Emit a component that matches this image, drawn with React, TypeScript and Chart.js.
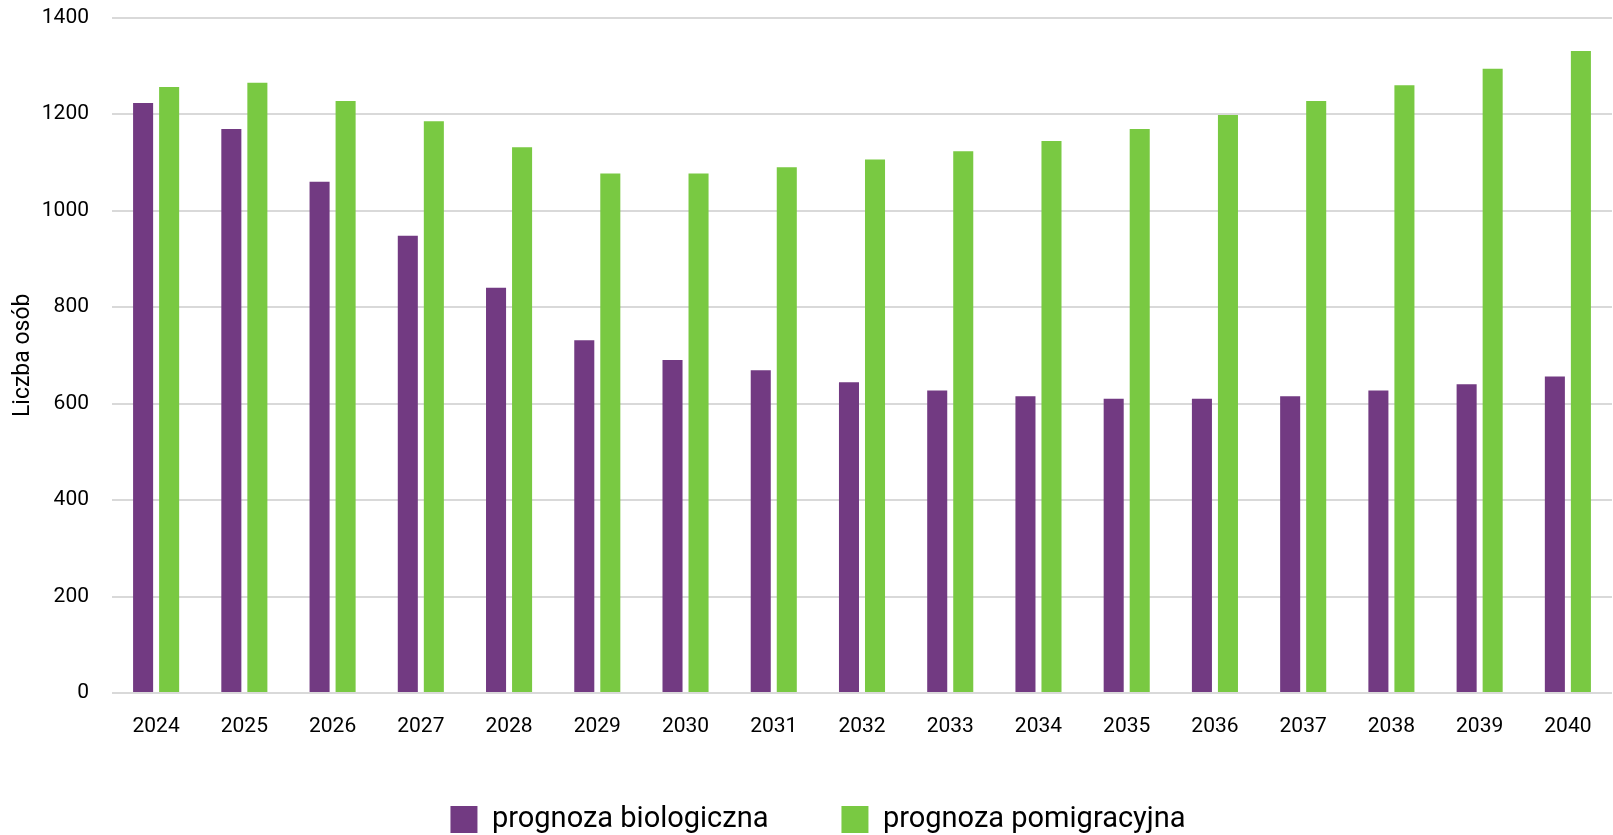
import React, { useEffect, useRef } from "react";
import { Chart, registerables } from "chart.js";

Chart.register(...registerables);

const years = ["2024", "2025", "2026", "2027", "2028", "2029", "2030", "2031", "2032", "2033", "2034", "2035", "2036", "2037", "2038", "2039", "2040"];
const prognozaBiologiczna = [1223, 1169, 1060, 948, 840, 731, 690, 669, 644, 627, 615, 610, 610, 615, 627, 640, 656];
const prognozaPomigracyjna = [1256, 1265, 1227, 1185, 1131, 1077, 1077, 1090, 1106, 1123, 1144, 1169, 1198, 1227, 1260, 1294, 1331];
const seriesNames = ["prognoza biologiczna", "prognoza pomigracyjna"];
const yTitle = "Liczba osób";

const FONT = "Roboto, 'Liberation Sans', sans-serif";

export default function App() {
  const ref = useRef<HTMLCanvasElement | null>(null);

  useEffect(() => {
    if (!ref.current) return;
    const chart = new Chart(ref.current, {
      type: "bar",
      data: {
        labels: years,
        datasets: [
          {
            label: seriesNames[0],
            data: prognozaBiologiczna,
            backgroundColor: "#723A82",
            categoryPercentage: 0.59,
            barPercentage: 0.77,
          },
          {
            label: seriesNames[1],
            data: prognozaPomigracyjna,
            backgroundColor: "#79C942",
            categoryPercentage: 0.59,
            barPercentage: 0.77,
          },
        ],
      },
      options: {
        responsive: false,
        animation: false,
        maintainAspectRatio: false,
        layout: { padding: { top: 0, right: 1, bottom: -9, left: 24 } },
        plugins: {
          tooltip: { enabled: false },
          legend: {
            position: "bottom",
            labels: {
              boxWidth: 27,
              boxHeight: 27,
              padding: 73,
              color: "#000",
              font: { family: FONT, size: 29 },
            },
          },
        },
        scales: {
          x: {
            grid: { display: false, drawTicks: false },
            border: { display: false },
            ticks: {
              color: "#000",
              padding: 21,
              maxRotation: 0,
              font: { family: FONT, size: 21 },
            },
            afterFit: (s: any) => {
              s.height = 39;
            },
          },
          y: {
            min: 0,
            max: 1400,
            ticks: {
              stepSize: 200,
              color: "#000",
              padding: 5,
              font: { family: FONT, size: 21 },
              callback: (v: any) => String(v),
            },
            grid: {
              color: "#D9D9D9",
              lineWidth: 2,
              drawTicks: true,
              tickLength: 18,
              tickColor: "rgba(0,0,0,0)",
            },
            border: { display: false },
            title: {
              display: true,
              text: yTitle,
              color: "#000",
              padding: { top: -15, bottom: 0 },
              font: { family: FONT, size: 23 },
            },
            afterFit: (s: any) => {
              s.width = 88;
            },
          },
        },
      },
    });
    return () => chart.destroy();
  }, []);

  return (
    <div style={{ position: "fixed", left: 0, top: 0, width: 1613, height: 835, background: "#fff" }}>
      <canvas ref={ref} width={1613} height={835} style={{ display: "block" }} />
    </div>
  );
}
